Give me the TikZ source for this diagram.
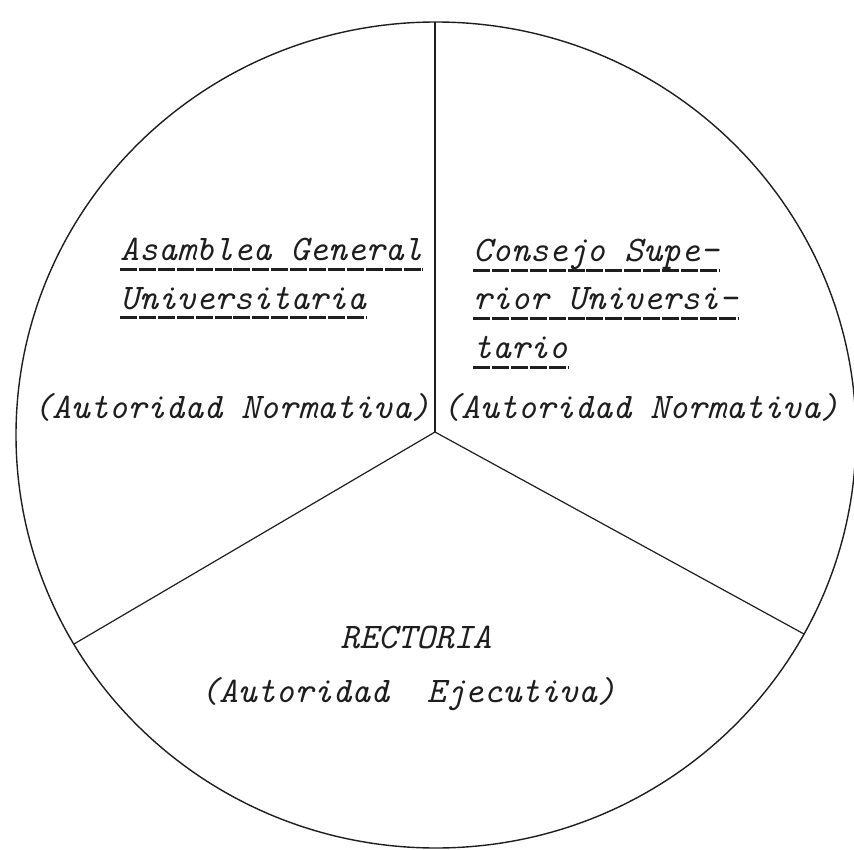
\documentclass[tikz,border=0pt]{standalone}
\usepackage{fontspec}
\usetikzlibrary{calc}
\definecolor{ink}{HTML}{1E1E1E}
\def\cx{436}
\def\cy{435}
\def\rx{420}
\def\ry{413}
\tikzset{
  type/.style={ink,inner sep=0pt,anchor=base west,
    font=\ttfamily\itshape\fontsize{36}{44}\selectfont},
  uline/.style={ink,line width=3pt,dash pattern=on 17pt off 1.9pt},
  spoke/.style={ink,line width=1.2pt},
}
\newcommand{\under}[1]{\draw[uline] ($(#1.base west)+(0,9)$) -- ($(#1.base east)+(0,9)$);}

\begin{document}
\begin{tikzpicture}[x=1pt,y=-1pt]
\useasboundingbox (0,0) rectangle (854,850);

% ---------------------------------------------------------------- rim
\draw[ink,line width=1.4pt] (\cx,\cy) ellipse ({\rx} and {\ry});

% ---------------------------------------------------------------- spokes
\coordinate (hub) at (435,432);
\coordinate (top) at (435,22);
\coordinate (lft) at (74,644);
\coordinate (rgt) at (804,634);
\foreach \e in {top,lft,rgt} {\draw[spoke] (hub) -- (\e);}

% ---------------------------------------------------------------- left sector
\node[type] (asam) at (120,261) {Asamblea General};
\node[type] (univ) at (120,309) {Universitaria};
\node[type] (normL) at (33,418) {(Autoridad Normativa)};
\under{asam}
\under{univ}

% ---------------------------------------------------------------- right sector
\node[type] (cons) at (473,262) {Consejo Supe-};
\node[type] (rior) at (473,310) {rior Universi-};
\node[type] (tario) at (473,358) {tario};
\node[type] (normR) at (442,418) {(Autoridad Normativa)};
\under{cons}
\under{rior}
\under{tario}

% ---------------------------------------------------------------- bottom sector
\node[type,anchor=base] (rect) at (416,648) {RECTORIA};
\node[type,anchor=base] (ejec) at (408,702) {(Autoridad\ \ Ejecutiva)};

\end{tikzpicture}
\end{document}
